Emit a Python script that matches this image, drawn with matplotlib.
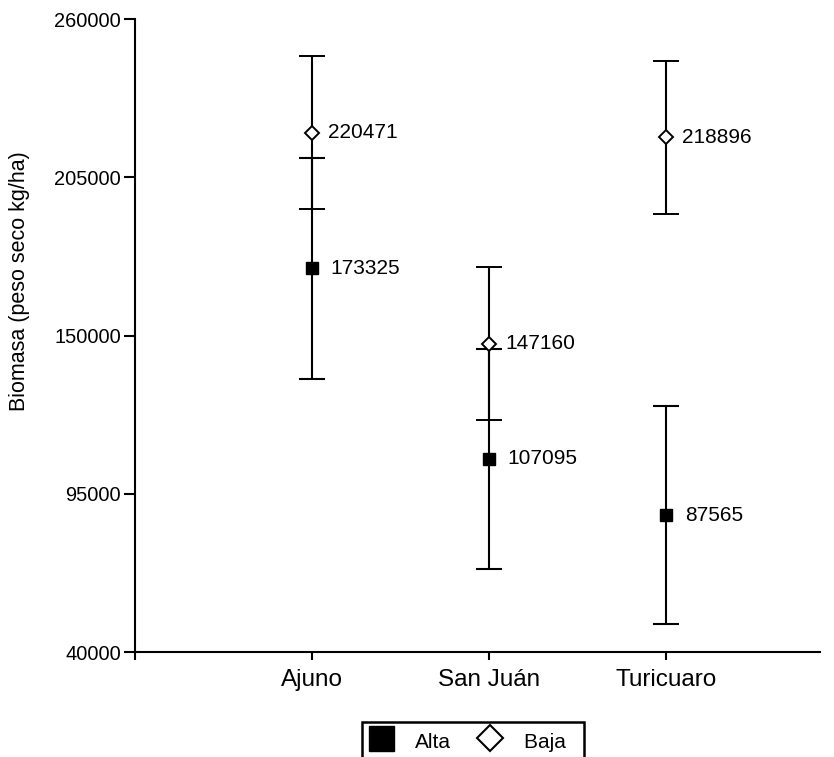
import matplotlib
matplotlib.use("Agg")
import matplotlib.pyplot as plt
from matplotlib.lines import Line2D

# ----------------------- data -----------------------------
SITES      = ["Ajuno", "San Juán", "Turicuaro"]
ALTA       = [173325, 107095, 87565]
ALTA_ERR   = [38500, 38200, 38000]
BAJA       = [220471, 147160, 218896]
BAJA_ERR   = [26500, 26500, 26500]
Y_TICKS    = [40000, 95000, 150000, 205000, 260000]
# ----------------------------------------------------------

plt.rcParams["font.family"] = ["Liberation Sans", "DejaVu Sans"]

fig = plt.figure(figsize=(8.34, 7.57), dpi=100)
ax = fig.add_axes([0.1619, 0.1387, 0.8213, 0.8362])

x = list(range(1, len(SITES) + 1))

ax.errorbar(x, BAJA, yerr=BAJA_ERR, fmt="D", color="black",
            mfc="white", mec="black", mew=1.4, ms=7.5,
            elinewidth=1.5, capsize=9.5, capthick=1.5, zorder=3)
ax.errorbar(x, ALTA, yerr=ALTA_ERR, fmt="s", color="black",
            mfc="black", mec="black", ms=8,
            elinewidth=1.5, capsize=9.5, capthick=1.5, zorder=3)

for xi, v in zip(x, BAJA):
    ax.annotate(f"{v}", (xi, v), xytext=(11.5, 0), textcoords="offset points",
                va="center", ha="left", fontsize=15)
for xi, v in zip(x, ALTA):
    ax.annotate(f"{v}", (xi, v), xytext=(13.5, 0), textcoords="offset points",
                va="center", ha="left", fontsize=15)

ax.set_xlim(0, 3.87)
ax.set_ylim(40000, 260000)
ax.set_yticks(Y_TICKS)
ax.set_yticklabels([str(t) for t in Y_TICKS], fontsize=14.4)
ax.set_xticks([0] + x)
ax.set_xticklabels([""] + SITES, fontsize=17.5)

for side in ("top", "right"):
    ax.spines[side].set_visible(False)
for side in ("left", "bottom"):
    ax.spines[side].set_linewidth(1.5)
ax.tick_params(axis="y", direction="out", length=8, width=1.5, pad=2)
ax.tick_params(axis="x", direction="out", length=6, width=1.5, pad=6)

ax.set_ylabel("Biomasa (peso seco kg/ha)", fontsize=15.5, va="center")
ax.yaxis.set_label_coords(-0.168, 0.586)

# legend sits at the bottom edge, its lower border falls off the figure
handles = [
    Line2D([], [], marker="s", ls="none", color="black", ms=18),
    Line2D([], [], marker="D", ls="none", mfc="white", mec="black",
           mew=1.5, ms=13),
]
leg = fig.legend(handles, ["Alta", "Baja  "], loc="upper left",
                 bbox_to_anchor=(362 / 834, 1 - 722 / 757), ncol=2,
                 fontsize=15, frameon=True, fancybox=False, shadow=False,
                 borderaxespad=0, borderpad=0.3, handlelength=1.2,
                 handleheight=1.5, handletextpad=1.05, columnspacing=1.25)
leg.get_frame().set_edgecolor("black")
leg.get_frame().set_linewidth(1.8)
leg.get_frame().set_alpha(None)

fig.savefig("out.png", dpi=100)
